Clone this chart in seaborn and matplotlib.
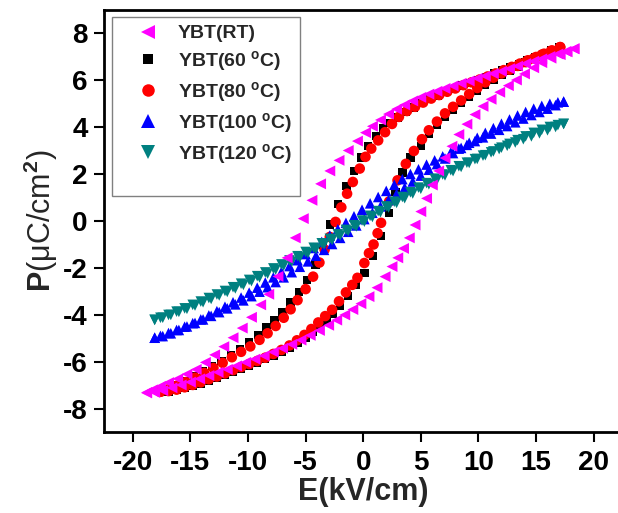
import matplotlib
matplotlib.use("Agg")
import matplotlib.pyplot as plt
import pandas as pd
import seaborn as sns
from matplotlib.lines import Line2D

sns.set_theme(style="white")
plt.rcParams["font.family"] = ["Liberation Sans", "DejaVu Sans"]
plt.rcParams["mathtext.fontset"] = "custom"
plt.rcParams["mathtext.rm"] = "Liberation Sans"
plt.rcParams["mathtext.bf"] = "Liberation Sans:bold"
plt.rcParams["mathtext.it"] = "Liberation Sans:italic"

# ---------------- data ----------------
# YBT(RT)
rt_E_down = [18.3, 17.6, 16.9, 16.2, 15.5, 14.8, 14.1, 13.4, 12.7, 12.0, 11.3, 10.6, 9.9, 9.2, 8.5,
             7.8, 7.1, 6.4, 5.7, 5.0, 4.3, 3.6, 2.9, 2.2, 1.5, 0.8, 0.2, -0.5, -1.3, -2.1,
             -2.9, -3.7, -4.45, -5.2, -5.9, -6.6, -7.4, -8.2, -8.9, -9.7, -10.5, -11.3, -12.1, -12.9, -13.7,
             -14.5, -15.3, -16.1, -16.9, -17.6, -18.3, -18.8]
rt_P_down = [7.35, 7.24, 7.13, 7.02, 6.92, 6.82, 6.72, 6.61, 6.5, 6.39, 6.29, 6.19, 6.09, 5.98, 5.88,
             5.77, 5.66, 5.54, 5.42, 5.28, 5.13, 4.96, 4.78, 4.57, 4.32, 4.05, 3.78, 3.42, 3.02, 2.6,
             2.15, 1.6, 0.9, 0.12, -0.7, -1.55, -2.34, -3.1, -3.55, -4.08, -4.54, -4.95, -5.33, -5.68, -6.0,
             -6.3, -6.5, -6.7, -6.86, -7.02, -7.17, -7.28]
rt_E_up = [-18.8, -18.1, -17.4, -16.6, -15.8, -15.0, -14.2, -13.4, -12.6, -11.8, -11.0, -10.2, -9.4, -8.6, -7.8,
           -7.0, -6.2, -5.4, -4.6, -3.8, -3.0, -2.3, -1.6, -0.9, -0.2, 0.5, 1.2, 1.9, 2.5, 3.0,
           3.5, 4.0, 4.5, 5.0, 5.5, 6.0, 6.55, 7.1, 7.7, 8.3, 9.0, 9.7, 10.4, 11.1, 11.85,
           12.6, 13.3, 14.0, 14.8, 15.5, 16.3, 17.1, 17.7, 18.3]
rt_P_up = [-7.3, -7.28, -7.2, -7.08, -6.96, -6.84, -6.7, -6.56, -6.42, -6.3, -6.15, -6.0, -5.86, -5.72, -5.56,
           -5.4, -5.23, -5.05, -4.85, -4.64, -4.42, -4.2, -3.98, -3.75, -3.5, -3.2, -2.82, -2.35, -1.92, -1.55,
           -1.15, -0.7, -0.15, 0.42, 0.98, 1.55, 2.15, 2.7, 3.2, 3.7, 4.14, 4.55, 4.9, 5.2, 5.5,
           5.78, 6.02, 6.28, 6.54, 6.76, 6.95, 7.1, 7.22, 7.35]

# YBT(60 °C)
t60_E_down = [17.0, 16.3, 15.6, 14.9, 14.2, 13.5, 12.8, 12.1, 11.4, 10.7, 10.0, 9.3, 8.6, 7.9, 7.2,
              6.5, 5.8, 5.1, 4.4, 3.7, 3.0, 2.3, 1.7, 1.1, 0.4, -0.17, -0.8, -1.46, -2.2, -2.9,
              -3.5, -4.15, -4.9, -5.6, -6.3, -7.0, -7.7, -8.4, -9.1, -9.9, -10.7, -11.5, -12.3, -13.1, -13.9,
              -14.7, -15.5, -16.3, -17.0, -17.6]
t60_P_down = [7.42, 7.28, 7.14, 6.99, 6.85, 6.71, 6.57, 6.43, 6.29, 6.15, 6.02, 5.9, 5.78, 5.64, 5.5,
              5.35, 5.2, 5.03, 4.85, 4.65, 4.42, 4.18, 3.95, 3.65, 3.22, 2.72, 2.15, 1.51, 0.73, -0.13,
              -1.0, -1.84, -2.48, -3.0, -3.45, -3.85, -4.2, -4.52, -4.84, -5.15, -5.42, -5.68, -5.93, -6.16, -6.38,
              -6.6, -6.8, -6.98, -7.12, -7.25]
t60_E_up = [-17.6, -16.9, -16.2, -15.5, -14.8, -14.1, -13.4, -12.7, -12.0, -11.3, -10.6, -9.9, -9.2, -8.5, -7.8,
            -7.1, -6.4, -5.7, -5.0, -4.4, -3.8, -3.2, -2.6, -2.0, -1.3, -0.65, 0.1, 0.83, 1.55, 2.26,
            2.8, 3.4, 4.1, 5.0, 5.7, 6.4, 7.1, 7.8, 8.5, 9.2, 9.9, 10.6, 11.3, 12.0, 12.7,
            13.4, 14.1, 14.8, 15.5, 16.3, 17.0]
t60_P_up = [-7.25, -7.24, -7.18, -7.1, -7.0, -6.9, -6.78, -6.66, -6.53, -6.4, -6.27, -6.13, -6.0, -5.86, -5.7,
            -5.54, -5.36, -5.16, -4.94, -4.72, -4.48, -4.22, -3.92, -3.6, -3.18, -2.69, -2.19, -1.48, -0.63, 0.37,
            1.25, 2.08, 2.72, 3.22, 3.72, 4.1, 4.45, 4.76, 5.05, 5.32, 5.58, 5.82, 6.04, 6.24, 6.42,
            6.6, 6.76, 6.92, 7.08, 7.25, 7.42]

# YBT(80 °C)
t80_E_down = [17.1, 16.4, 15.7, 15.0, 14.3, 13.6, 12.9, 12.2, 11.5, 10.8, 10.1, 9.4, 8.7, 8.0, 7.3,
              6.6, 5.9, 5.2, 4.5, 3.8, 3.1, 2.5, 1.9, 1.3, 0.7, 0.2, -0.3, -0.9, -1.4, -1.9,
              -2.4, -2.9, -3.35, -3.8, -4.35, -5.0, -5.7, -6.3, -6.9, -7.6, -8.3, -9.0, -9.8, -10.6, -11.4,
              -12.2, -13.0, -13.8, -14.6, -15.4, -16.2, -16.9, -17.6]
t80_P_down = [7.42, 7.28, 7.14, 7.0, 6.86, 6.72, 6.58, 6.44, 6.3, 6.17, 6.04, 5.92, 5.8, 5.66, 5.52,
              5.38, 5.23, 5.06, 4.88, 4.7, 4.45, 4.15, 3.8, 3.45, 3.1, 2.75, 2.25, 1.68, 1.18, 0.6,
              -0.02, -0.66, -1.2, -1.75, -2.35, -2.88, -3.35, -3.74, -4.1, -4.45, -4.76, -5.04, -5.32, -5.55, -5.78,
              -6.02, -6.24, -6.45, -6.65, -6.84, -7.0, -7.14, -7.25]
t80_E_up = [-17.6, -16.9, -16.2, -15.5, -14.8, -14.1, -13.4, -12.7, -12.0, -11.3, -10.6, -9.9, -9.2, -8.5, -7.8,
            -7.1, -6.4, -5.75, -5.1, -4.5, -3.9, -3.3, -2.7, -2.1, -1.5, -0.95, -0.5, 0.1, 0.5, 0.9,
            1.25, 1.55, 2.25, 2.98, 3.7, 4.4, 5.1, 5.7, 6.4, 7.1, 7.8, 8.5, 9.2, 9.9, 10.6,
            11.3, 12.0, 12.7, 13.4, 14.1, 14.8, 15.5, 16.3, 17.1]
t80_P_up = [-7.25, -7.22, -7.16, -7.06, -6.96, -6.85, -6.72, -6.6, -6.47, -6.33, -6.2, -6.07, -5.94, -5.8, -5.64,
            -5.47, -5.28, -5.06, -4.83, -4.58, -4.3, -4.03, -3.76, -3.4, -3.02, -2.7, -2.4, -1.77, -1.35, -0.98,
            -0.5, -0.06, 0.85, 1.75, 2.45, 3.0, 3.5, 3.88, 4.25, 4.6, 4.88, 5.15, 5.42, 5.68, 5.92,
            6.12, 6.3, 6.46, 6.62, 6.78, 6.94, 7.1, 7.26, 7.42]

# field sweeps shared by the 100 °C and 120 °C loops
hi_E_down = [17.4, 16.7, 16.0, 15.3, 14.6, 13.9, 13.2, 12.5, 11.8, 11.1, 10.4, 9.7, 9.0, 8.3, 7.6,
             6.9, 6.2, 5.5, 4.8, 4.1, 3.4, 2.7, 2.0, 1.3, 0.6, -0.1, -0.8, -1.5, -2.2, -2.9,
             -3.6, -4.3, -5.0, -5.7, -6.4, -7.1, -7.8, -8.5, -9.2, -9.9, -10.6, -11.3, -12.0, -12.7, -13.4,
             -14.1, -14.8, -15.5, -16.2, -16.9, -17.6, -18.1]
hi_E_up = [-18.1, -17.4, -16.7, -16.0, -15.3, -14.6, -13.9, -13.2, -12.5, -11.8, -11.1, -10.4, -9.7, -9.0, -8.3,
           -7.6, -6.9, -6.2, -5.5, -4.8, -4.1, -3.4, -2.7, -2.0, -1.3, -0.6, 0.1, 0.8, 1.5, 2.2,
           2.9, 3.6, 4.3, 5.0, 5.7, 6.4, 7.1, 7.8, 8.5, 9.2, 9.9, 10.6, 11.3, 12.0, 12.7,
           13.4, 14.1, 14.8, 15.5, 16.2, 16.9, 17.4]

# YBT(100 °C)
t100_P_down = [5.1, 4.95, 4.8, 4.66, 4.53, 4.38, 4.22, 4.06, 3.9, 3.74, 3.58, 3.42, 3.26, 3.1, 2.94,
               2.77, 2.6, 2.42, 2.22, 2.02, 1.8, 1.56, 1.3, 1.04, 0.77, 0.5, 0.22, -0.06, -0.33, -0.6,
               -0.87, -1.13, -1.39, -1.65, -1.9, -2.14, -2.38, -2.6, -2.82, -3.03, -3.24, -3.44, -3.63, -3.82, -4.0,
               -4.17, -4.33, -4.48, -4.62, -4.75, -4.87, -4.95]
t100_P_up = [-4.95, -4.88, -4.76, -4.62, -4.47, -4.32, -4.17, -4.02, -3.86, -3.7, -3.53, -3.36, -3.18, -2.99, -2.8,
             -2.58, -2.38, -2.16, -1.93, -1.7, -1.46, -1.21, -0.96, -0.7, -0.44, -0.17, 0.1, 0.37, 0.64, 0.91,
             1.18, 1.44, 1.7, 1.95, 2.2, 2.44, 2.68, 2.91, 3.13, 3.35, 3.56, 3.77, 3.97, 4.16, 4.34,
             4.51, 4.66, 4.8, 4.92, 5.01, 5.07, 5.1]

# YBT(120 °C)
t120_P_down = [4.15, 4.02, 3.88, 3.75, 3.62, 3.5, 3.36, 3.22, 3.08, 2.94, 2.8, 2.65, 2.5, 2.35, 2.18,
               2.0, 1.82, 1.63, 1.44, 1.24, 1.04, 0.84, 0.64, 0.44, 0.24, 0.04, -0.16, -0.36, -0.55, -0.74,
               -0.93, -1.12, -1.3, -1.48, -1.66, -1.83, -2.0, -2.17, -2.33, -2.49, -2.65, -2.8, -2.96, -3.11, -3.26,
               -3.41, -3.55, -3.7, -3.84, -3.98, -4.1, -4.19]
t120_P_up = [-4.19, -4.1, -3.98, -3.85, -3.72, -3.58, -3.44, -3.3, -3.15, -3.0, -2.85, -2.7, -2.54, -2.38, -2.22,
             -2.05, -1.88, -1.71, -1.53, -1.35, -1.17, -0.98, -0.79, -0.6, -0.41, -0.21, -0.01, 0.19, 0.39, 0.59,
             0.79, 0.99, 1.19, 1.39, 1.58, 1.77, 1.96, 2.14, 2.32, 2.49, 2.66, 2.82, 2.98, 3.14, 3.3,
             3.46, 3.62, 3.77, 3.9, 4.02, 4.1, 4.15]

labels = ["YBT(RT)", "YBT(60 $^{\\mathbf{o}}$C)", "YBT(80 $^{\\mathbf{o}}$C)",
          "YBT(100 $^{\\mathbf{o}}$C)", "YBT(120 $^{\\mathbf{o}}$C)"]
x_ticks = [-20, -15, -10, -5, 0, 5, 10, 15, 20]
y_ticks = [-8, -6, -4, -2, 0, 2, 4, 6, 8]

# ---------------- build table ----------------
loops = {
    labels[0]: (rt_E_down, rt_P_down, rt_E_up, rt_P_up),
    labels[1]: (t60_E_down, t60_P_down, t60_E_up, t60_P_up),
    labels[2]: (t80_E_down, t80_P_down, t80_E_up, t80_P_up),
    labels[3]: (hi_E_down, t100_P_down, hi_E_up, t100_P_up),
    labels[4]: (hi_E_down, t120_P_down, hi_E_up, t120_P_up),
}
frames = []
for name, (ed, pd_, eu, pu) in loops.items():
    frames.append(pd.DataFrame({"E": ed, "P": pd_, "series": name}))
    frames.append(pd.DataFrame({"E": eu, "P": pu, "series": name}))
df = pd.concat(frames, ignore_index=True)

style = {
    labels[0]: dict(marker="<", color="#FF00FF", s=62, ms=9.5),
    labels[1]: dict(marker="s", color="#000000", s=36, ms=7.5),
    labels[2]: dict(marker="o", color="#FF0000", s=58, ms=9),
    labels[3]: dict(marker="^", color="#0000FF", s=58, ms=9.5),
    labels[4]: dict(marker="v", color="#008080", s=58, ms=9.5),
}

# ---------------- figure ----------------
W, H = 618, 513
fig = plt.figure(figsize=(W / 100, H / 100), dpi=100)
ax = fig.add_axes([104 / W, (H - 431.7) / H, 518.4 / W, 421.7 / H])

draw_order = [labels[1], labels[2], labels[3], labels[4], labels[0]]
for name in draw_order:
    st = style[name]
    sub = df[df["series"] == name]
    sns.scatterplot(data=sub, x="E", y="P", marker=st["marker"], color=st["color"],
                    s=st["s"], linewidth=0, edgecolor="none", ax=ax, legend=False)

ax.set_xlim(-22.5, 22.5)
ax.set_ylim(-8.95, 9.0)
ax.set_xticks(x_ticks)
ax.set_yticks(y_ticks)
ax.set_xticklabels([str(v) for v in x_ticks], fontweight="bold")
ax.set_yticklabels([str(v) for v in y_ticks], fontweight="bold")
ax.tick_params(axis="both", direction="out", length=7.2, width=1.5, labelsize=20,
               colors="black", top=False, right=False, bottom=True, left=True)
ax.tick_params(axis="x", pad=6)
ax.tick_params(axis="y", pad=4.5)
for side in ["left", "bottom", "top", "right"]:
    ax.spines[side].set_linewidth(2.0)
    ax.spines[side].set_color("black")

ax.set_xlabel("E(kV/cm)", fontsize=22, fontweight="bold", labelpad=1)
ax.set_ylabel("$\\mathbf{P}$(\u03bcC/cm$^{\\mathbf{2}}$)", fontsize=22, labelpad=2)

handles = []
for name in labels:
    st = style[name]
    handles.append(Line2D([], [], linestyle="none", marker=st["marker"], color=st["color"],
                          markersize=st["ms"], markeredgewidth=0))
handles.append(Line2D([], [], linestyle="none"))
leg = ax.legend(handles, labels + [" "], loc="upper left",
                bbox_to_anchor=((112 - 104) / 518.4, (431.7 - 17) / 421.7),
                borderaxespad=0, frameon=True, fancybox=False, framealpha=1,
                edgecolor="#808080", prop={"weight": "bold", "size": 14},
                handlelength=2.9, handletextpad=0.1, labelspacing=0.35, borderpad=0.4)
leg.get_texts()[-1].set_fontsize(8)
leg.get_frame().set_linewidth(1.0)

fig.savefig("out.png", dpi=100)
